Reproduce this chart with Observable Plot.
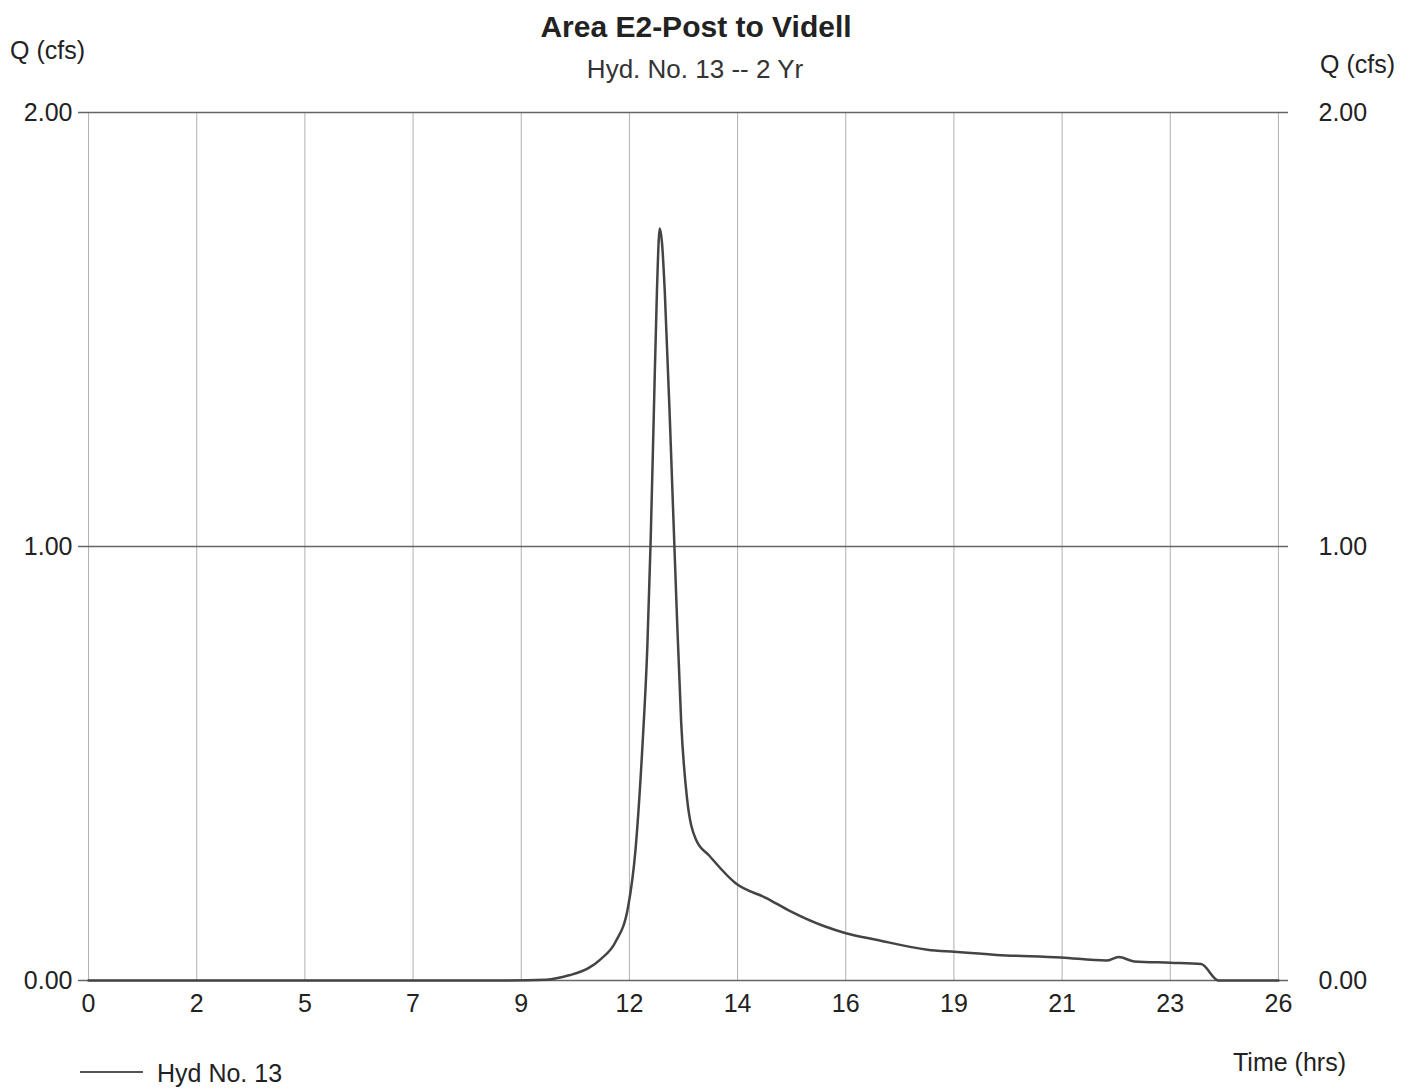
<!DOCTYPE html>
<html>
<head>
<meta charset="utf-8">
<script src="https://cdn.jsdelivr.net/npm/d3@7"></script>
<script src="https://cdn.jsdelivr.net/npm/@observablehq/plot@0.6"></script>
<style>
  html, body { margin: 0; padding: 0; background: #fff; }
  #wrap { position: relative; width: 1419px; height: 1089px; font-family: "Liberation Sans", Arial, sans-serif; color: #222; }
  .lbl { position: absolute; white-space: nowrap; line-height: 1; }
</style>
</head>
<body>
<div id="wrap">
  <div class="lbl" style="left:696px;top:12px;transform:translateX(-50%);font-size:30px;font-weight:bold;">Area E2-Post to Videll</div>
  <div class="lbl" style="left:695px;top:56px;transform:translateX(-50%);font-size:26px;color:#333;">Hyd. No. 13 -- 2 Yr</div>
  <div class="lbl" style="left:10px;top:38px;font-size:25px;">Q (cfs)</div>
  <div class="lbl" style="left:1320px;top:52px;font-size:25px;">Q (cfs)</div>
  <div class="lbl" style="left:1233px;top:1050px;font-size:25px;">Time (hrs)</div>
  <div class="lbl" style="left:80px;top:1071px;width:63px;height:0;border-top:2px solid #555;"></div>
  <div class="lbl" style="left:157px;top:1061px;font-size:25px;">Hyd No. 13</div>
</div>
<script>
// Time (hrs) of each point on the hydrograph
const times = [0, 2, 4, 6, 8, 9, 10.0, 10.5, 10.93, 11.2, 11.51, 11.79, 11.95, 12.1, 12.21, 12.28, 12.35, 12.42, 12.48, 12.53, 12.59, 12.72, 12.84, 12.95, 13.08, 13.28, 13.56, 14.14, 14.81, 15.33, 16.08, 16.55, 17.21, 18.33, 18.91, 19.84, 21.25, 22.24, 22.51, 22.85, 23.64, 24.31, 24.69, 26];
// Discharge Q (cfs)
const flows = [0, 0, 0, 0, 0, 0, 0.002, 0.012, 0.029, 0.05, 0.088, 0.17, 0.30, 0.535, 0.77, 1.005, 1.30, 1.59, 1.733, 1.70, 1.59, 1.24, 0.887, 0.593, 0.417, 0.323, 0.288, 0.224, 0.19, 0.16, 0.125, 0.109, 0.094, 0.071, 0.066, 0.059, 0.053, 0.046, 0.054, 0.044, 0.041, 0.038, 0.0, 0];
// x-axis tick labels (evenly spaced over 0..26 hrs)
const xTickLabels = ["0", "2", "5", "7", "9", "12", "14", "16", "19", "21", "23", "26"];
const xMax = 26;
// y-axis ticks
const yTicks = [0, 1, 2];

const xTicks = xTickLabels.map((_, i) => i * xMax / (xTickLabels.length - 1));
const labelMap = new Map(xTicks.map((v, i) => [v, xTickLabels[i]]));
const data = times.map((t, i) => ({t, q: flows[i]}));

const chart = Plot.plot({
  width: 1419,
  height: 1089,
  marginTop: 112,
  marginBottom: 109,
  marginLeft: 78,
  marginRight: 131,
  style: {fontFamily: "Liberation Sans, Arial, sans-serif", fontSize: "25px", color: "#222", background: "transparent"},
  x: {domain: [-0.22, 26.22], label: null},
  y: {domain: [0, 2], label: null},
  marks: [
    Plot.ruleX(xTicks, {stroke: "#b0b0b0", strokeWidth: 1}),
    Plot.ruleY(yTicks, {stroke: "#666", strokeWidth: 1.3}),
    Plot.line(data, {x: "t", y: "q", stroke: "#444", strokeWidth: 2.5, curve: "monotone-x"}),
    Plot.axisY(yTicks, {anchor: "left", tickSize: 0, tickPadding: 6, tickFormat: d => d.toFixed(2)}),
    Plot.axisY(yTicks, {anchor: "right", tickSize: 0, tickPadding: 30, tickFormat: d => d.toFixed(2)}),
    Plot.axisX(xTicks, {anchor: "bottom", tickSize: 0, tickPadding: 14, tickFormat: d => labelMap.get(d)})
  ]
});
chart.style.position = "absolute";
chart.style.left = "0px";
chart.style.top = "0px";
document.getElementById("wrap").prepend(chart);
</script>
</body>
</html>
